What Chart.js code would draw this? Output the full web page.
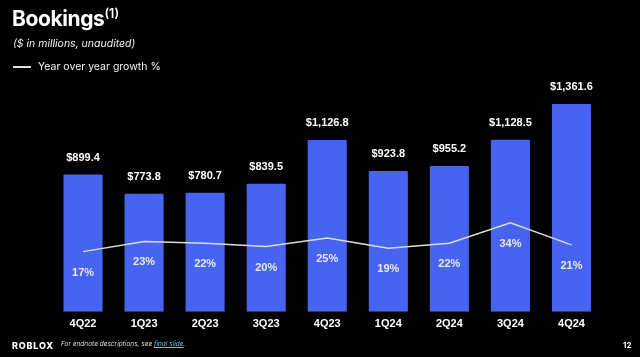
<!DOCTYPE html>
<html>
<head>
<meta charset="utf-8">
<script src="https://cdn.jsdelivr.net/npm/chart.js@4/dist/chart.umd.min.js"></script>
<style>
  html, body { margin:0; padding:0; background:#000; }
  #wrap { position:relative; width:640px; height:357px; overflow:hidden; background:#000; }
  #c { position:absolute; left:0; top:0; }
  .t { position:absolute; color:#fff; white-space:nowrap; }
</style>
</head>
<body>
<div id="wrap">
  <canvas id="c" width="640" height="357"></canvas>
  <div class="t" style="left:12px; top:6px; font-family:Inter, sans-serif; font-weight:700; font-size:21px; letter-spacing:-0.4px;">Bookings<span style="font-size:12.5px; position:relative; top:-8px; font-weight:600; letter-spacing:0;">(1)</span></div>
  <div class="t" style="left:13px; top:37px; font-family:Inter, sans-serif; font-style:italic; font-size:10.5px; color:#f0f0f0;">($ in millions, unaudited)</div>
  <div style="position:absolute; left:13px; top:66px; width:18px; height:2px; background:#e0e0e0;"></div>
  <div class="t" style="left:38px; top:60px; font-family:Inter, sans-serif; font-size:10.5px; color:#f0f0f0;">Year over year growth %</div>
  <div class="t" style="left:12px; top:340px; font-family:Inter, sans-serif; font-weight:800; font-size:9px; letter-spacing:0.8px;">ROBLOX</div>
  <div class="t" style="left:61px; top:340px; font-family:Inter, sans-serif; font-style:italic; font-size:6.5px; color:#ddd;">For endnote descriptions, see <span style="color:#5bc8e8; text-decoration:underline;">final slide</span>.</div>
  <div class="t" style="left:623px; top:340px; font-family:Inter, sans-serif; font-weight:700; font-size:8px;">12</div>
</div>
<script>
const categories = ["4Q22","1Q23","2Q23","3Q23","4Q23","1Q24","2Q24","3Q24","4Q24"];
const bookings = [899.4, 773.8, 780.7, 839.5, 1126.8, 923.8, 955.2, 1128.5, 1361.6];
const growth = [17, 23, 22, 20, 25, 19, 22, 34, 21];
const bookingLabels = ["$899.4","$773.8","$780.7","$839.5","$1,126.8","$923.8","$955.2","$1,128.5","$1,361.6"];
const growthLabels = growth.map(g => g + "%");

const labelPlugin = {
  id: 'labels',
  afterDatasetsDraw(chart) {
    const ctx = chart.ctx;
    ctx.save();
    ctx.textAlign = 'center';
    ctx.textBaseline = 'middle';
    ctx.font = 'bold 11px "Liberation Sans", Arial, sans-serif';
    const barMeta = chart.getDatasetMeta(1);
    barMeta.data.forEach((el, i) => {
      ctx.fillStyle = '#ffffff';
      ctx.fillText(bookingLabels[i], el.x, el.y - 17);
    });
    const lineMeta = chart.getDatasetMeta(0);
    lineMeta.data.forEach((el, i) => {
      ctx.fillStyle = '#e8e8f4';
      ctx.fillText(growthLabels[i], el.x, el.y + 21);
    });
    ctx.restore();
  }
};

new Chart(document.getElementById('c'), {
  data: {
    labels: categories,
    datasets: [
      {
        type: 'line',
        data: growth,
        yAxisID: 'y2',
        borderColor: '#dcdcdc',
        borderWidth: 1.5,
        pointRadius: 0,
        tension: 0,
        order: 0
      },
      {
        type: 'bar',
        data: bookings,
        yAxisID: 'y',
        backgroundColor: '#4664f0',
        borderWidth: 0,
        borderRadius: 1,
        categoryPercentage: 1.0,
        barPercentage: 0.64,
        order: 1
      }
    ]
  },
  options: {
    responsive: false,
    animation: false,
    devicePixelRatio: 1,
    layout: { padding: { left: 52.5, right: 38, top: 83, bottom: 20 } },
    plugins: { legend: { display: false }, tooltip: { enabled: false } },
    scales: {
      x: {
        grid: { display: false, drawTicks: false },
        border: { display: false },
        ticks: { color: '#ffffff', font: { family: '"Liberation Sans", Arial, sans-serif', size: 11, weight: 'bold' }, padding: 6 }
      },
      y: { display: false, min: 0, max: 1500 },
      y2: { display: false, min: -18.5, max: 116.5 }
    }
  },
  plugins: [labelPlugin]
});
</script>
</body>
</html>
